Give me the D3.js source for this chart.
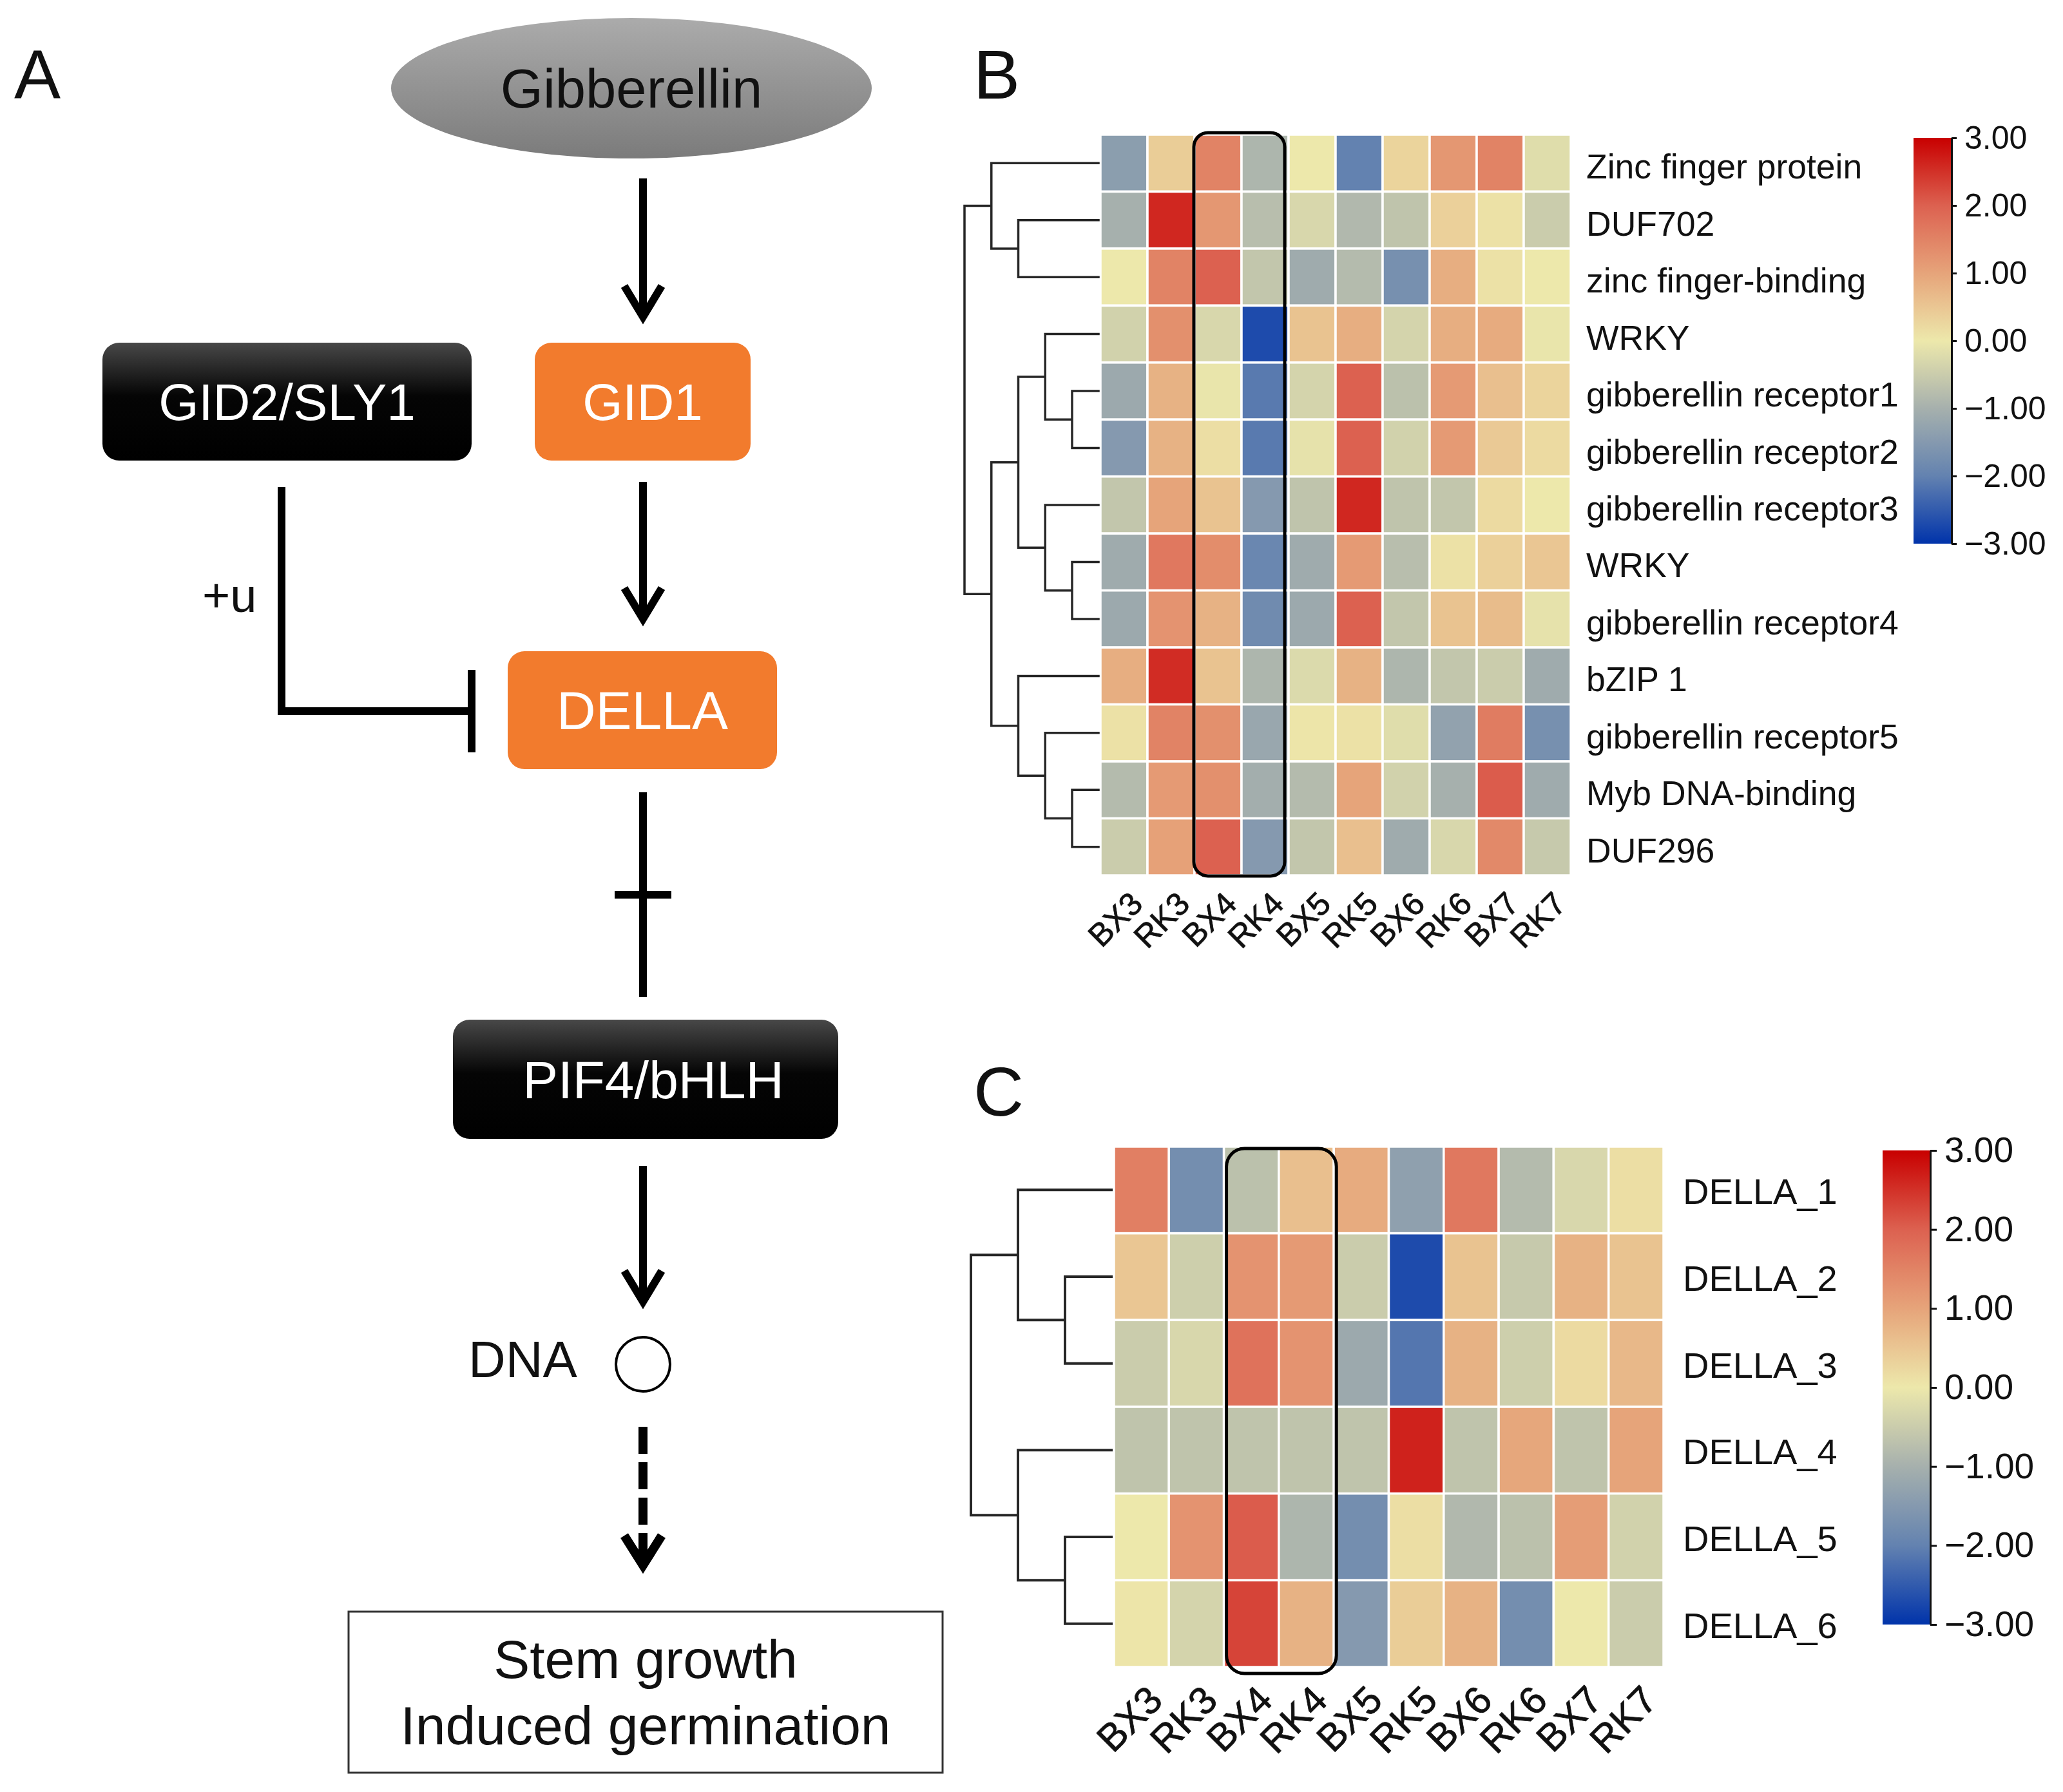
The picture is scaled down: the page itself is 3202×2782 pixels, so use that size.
<!DOCTYPE html>
<html><head><meta charset="utf-8">
<script src="https://cdn.jsdelivr.net/npm/d3@7"></script>
<style>
html,body{margin:0;padding:0;background:#fff;}
svg{display:block;}
text{font-family:"Liberation Sans", Arial, Helvetica, sans-serif;}
</style>
</head><body>
<svg id="fig" width="3202" height="2782"></svg>
<script>
// ---------------- DATA ----------------
const samples = ["BX3","RK3","BX4","RK4","BX5","RK5","BX6","RK6","BX7","RK7"];
const highlighted = ["BX4","RK4"];

const genesB = ["Zinc finger protein","DUF702","zinc finger-binding","WRKY",
  "gibberellin receptor1","gibberellin receptor2","gibberellin receptor3","WRKY",
  "gibberellin receptor4","bZIP 1","gibberellin receptor5","Myb DNA-binding","DUF296"];
const valuesB = [
  [-1.4, 0.4, 1.5,-0.9, 0.0,-2.0, 0.3, 1.2, 1.5,-0.2],
  [-1.0, 2.6, 1.2,-0.75,-0.3,-0.85,-0.65,0.35,0.1,-0.5],
  [ 0.0, 1.5, 2.0,-0.6,-1.1,-0.8,-1.7, 0.85,0.1, 0.0],
  [-0.4, 1.3,-0.3,-2.7, 0.55,0.85,-0.35,0.85,0.9,-0.05],
  [-1.15,0.8,-0.05,-2.1,-0.35,2.0,-0.7,1.15,0.6, 0.3],
  [-1.5, 0.8, 0.15,-2.1,-0.1, 2.0,-0.4, 1.15,0.45,0.2],
  [-0.6, 1.0, 0.55,-1.5,-0.65,2.6,-0.65,-0.6,0.2, 0.0],
  [-1.1, 1.65,1.35,-1.9,-1.1, 1.15,-0.75,0.1,0.35,0.5],
  [-1.15,1.25,0.8,-1.8,-1.15,2.0,-0.6, 0.55,0.65,-0.1],
  [ 0.85,2.55,0.55,-0.9,-0.25,0.8,-0.9,-0.6,-0.5,-1.1],
  [ 0.1, 1.5, 1.3,-1.2, 0.05,0.1,-0.2,-1.3, 1.6,-1.7],
  [-0.8, 1.15,1.3,-1.05,-0.8,1.0,-0.4,-1.0, 2.05,-1.1],
  [-0.5, 1.05,2.0,-1.5,-0.6, 0.6,-1.1,-0.3, 1.4,-0.55]
];
const treeB = [[0,[1,2]],[[[3,[4,5]],[6,[7,8]]],[9,[10,[11,12]]]]];

const genesC = ["DELLA_1","DELLA_2","DELLA_3","DELLA_4","DELLA_5","DELLA_6"];
const valuesC = [
  [ 1.55,-1.75,-0.7, 0.6, 0.9,-1.35, 1.65,-0.8,-0.3, 0.15],
  [ 0.5,-0.45, 1.25, 1.15,-0.5,-2.7, 0.55,-0.55,0.8, 0.55],
  [-0.5,-0.3, 1.75, 1.25,-1.15,-2.15,0.8,-0.45, 0.2, 0.7],
  [-0.65,-0.65,-0.65,-0.65,-0.65,2.65,-0.65,0.95,-0.65,1.0],
  [ 0.0, 1.25, 2.05,-0.9,-1.75, 0.15,-0.85,-0.7, 1.1,-0.4],
  [ 0.05,-0.35,2.3, 0.8,-1.5, 0.4, 0.8,-1.75, 0.0,-0.5]
];
const treeC = [[0,[1,2]],[3,[4,5]]];

const legendTicks = [3,2,1,0,-1,-2,-3];
const pathway = {ligand:"Gibberellin", receptor:"GID1", fbox:"GID2/SLY1", repressor:"DELLA",
  tf:"PIF4/bHLH", dna:"DNA", ubiq:"+u", outcome:["Stem growth","Induced germination"]};

// ---------------- STYLE ----------------
const svg = d3.select("#fig");
svg.append("rect").attr("width",3202).attr("height",2782).attr("fill","#fff");
const FONT = '"Liberation Sans", Arial, sans-serif';
const color = d3.scaleLinear()
  .domain([-3,-2,-1,0,1,2,3])
  .range(["#0033aa","#6382b0","#a6b0ad","#ede8ab","#e6a47a","#dc6150","#c80000"])
  .interpolate(d3.interpolateRgb).clamp(true);

const defs = svg.append("defs");
const lg = defs.append("linearGradient").attr("id","legGrad")
  .attr("x1",0).attr("y1",1).attr("x2",0).attr("y2",0);
d3.range(-3,3.001,0.25).forEach(v=>{
  lg.append("stop").attr("offset",(v+3)/6).attr("stop-color",color(v));
});
const eg = defs.append("linearGradient").attr("id","ellGrad").attr("x1",0).attr("y1",0).attr("x2",0).attr("y2",1);
eg.append("stop").attr("offset",0).attr("stop-color","#ababab");
eg.append("stop").attr("offset",1).attr("stop-color","#7b7b7b");
const bg = defs.append("linearGradient").attr("id","blkGrad").attr("x1",0).attr("y1",0).attr("x2",0).attr("y2",1);
bg.append("stop").attr("offset",0).attr("stop-color","#484848");
bg.append("stop").attr("offset",0.45).attr("stop-color","#050505");
bg.append("stop").attr("offset",1).attr("stop-color","#000");

// ---------------- HEATMAP ----------------
function heatmap(cfg){
  const g = svg.append("g");
  const x = d3.scaleBand().domain(samples).range([cfg.x0,cfg.x1]).padding(0);
  const y = d3.scaleBand().domain(d3.range(cfg.rows.length)).range([cfg.y0,cfg.y1]).padding(0);
  cfg.values.forEach((row,i)=>{
    g.selectAll(null).data(row).enter().append("rect")
      .attr("x",(d,j)=>x(samples[j])).attr("y",y(i))
      .attr("width",x.bandwidth()).attr("height",y.bandwidth())
      .attr("fill",d=>color(d)).attr("stroke","#fff").attr("stroke-width",cfg.gap);
  });
  g.selectAll(null).data(cfg.rows).enter().append("text")
    .attr("x",cfg.labelX).attr("y",(d,i)=>y(i)+y.bandwidth()/2+cfg.labelDy)
    .attr("font-size",cfg.labelFs).attr("fill","#111").text(d=>d);
  g.selectAll(null).data(samples).enter().append("text")
    .attr("transform",d=>`translate(${x(d)+x.bandwidth()/2+cfg.colDx},${cfg.y1+cfg.colDy}) rotate(-45)`)
    .attr("text-anchor","end").attr("font-size",cfg.colFs).attr("fill","#111")
    .attr("stroke","#111").attr("stroke-width",0.8).text(d=>d);
  const hx0 = x(highlighted[0]) + cfg.boxPad[0];
  const hx1 = x(highlighted[1]) + x.bandwidth() + cfg.boxPad[1];
  g.append("rect").attr("x",hx0).attr("y",cfg.y0+cfg.boxPad[2])
    .attr("width",hx1-hx0).attr("height",cfg.y1-cfg.y0+cfg.boxPad[3]-cfg.boxPad[2])
    .attr("rx",cfg.boxR).attr("ry",cfg.boxR)
    .attr("fill","none").attr("stroke","#000").attr("stroke-width",cfg.boxW);
  const root = d3.hierarchy(cfg.tree, d=>Array.isArray(d)?d:null);
  const depthX = d3.scaleLinear().domain([0,cfg.maxDepth]).range([cfg.dx0,cfg.dx1]);
  root.eachAfter(n=>{
    if(n.children){ n.py = d3.mean(n.children,c=>c.py); n.px = depthX(n.depth); }
    else { n.py = y(n.data)+y.bandwidth()/2; n.px = cfg.leafX; }
  });
  const paths=[];
  root.each(n=>{
    if(n.children){
      const ys = n.children.map(c=>c.py);
      paths.push(`M${n.px},${d3.min(ys)}V${d3.max(ys)}`);
      n.children.forEach(c=>paths.push(`M${n.px},${c.py}H${c.px}`));
    }
  });
  g.append("path").attr("d",paths.join("")).attr("fill","none")
    .attr("stroke","#262626").attr("stroke-width",cfg.treeW).attr("stroke-linecap","square");
  const ly = d3.scaleLinear().domain([-3,3]).range([cfg.leg.y1,cfg.leg.y0]);
  g.append("rect").attr("x",cfg.leg.x0).attr("y",cfg.leg.y0)
    .attr("width",cfg.leg.x1-cfg.leg.x0).attr("height",cfg.leg.y1-cfg.leg.y0).attr("fill","url(#legGrad)");
  const ax = g.append("g").attr("transform",`translate(${cfg.leg.x1},0)`)
    .call(d3.axisRight(ly).tickValues(legendTicks).tickFormat(d3.format(".2f"))
      .tickSize(cfg.leg.tick).tickSizeOuter(0).tickPadding(cfg.leg.pad));
  ax.select(".domain").attr("stroke","#111").attr("stroke-width",3);
  ax.selectAll(".tick line").attr("stroke","#111").attr("stroke-width",3);
  ax.selectAll(".tick text").attr("font-size",cfg.leg.fs).attr("font-family",FONT).attr("fill","#111");
}

heatmap({rows:genesB, values:valuesB, tree:treeB, maxDepth:4,
  x0:1708, x1:2438, y0:209, y1:1359, gap:3.5,
  labelX:2462, labelDy:24, labelFs:53.5, colDx:32, colDy:47, colFs:50,
  boxPad:[-1,-6,-3,1], boxR:22, boxW:5,
  dx0:1497, dx1:1664, leafX:1705, treeW:3.5,
  leg:{x0:2970,x1:3029,y0:214,y1:844,tick:8,pad:12,fs:50}});

heatmap({rows:genesC, values:valuesC, tree:treeC, maxDepth:2,
  x0:1729, x1:2582, y0:1780, y1:2588, gap:3.5,
  labelX:2612, labelDy:22, labelFs:56, colDx:36, colDy:55, colFs:60,
  boxPad:[4,4,3,10], boxR:28, boxW:5,
  dx0:1507, dx1:1653, leafX:1725, treeW:4,
  leg:{x0:2922,x1:2996,y0:1786,y1:2522,tick:10,pad:12,fs:55}});

// ---------------- PANEL LETTERS ----------------
[["A",22,153],["B",1511,153],["C",1511,1732]].forEach(([t,x,y])=>{
  svg.append("text").attr("x",x).attr("y",y).attr("font-size",108).attr("fill","#111").text(t);
});

// ---------------- PANEL A (pathway) ----------------
const A = svg.append("g");
const LW = 12;
function head(x,tip){
  A.append("path").attr("d",`M${x-29},${tip-54}L${x},${tip-6}L${x+29},${tip-54}`)
    .attr("fill","none").attr("stroke","#000").attr("stroke-width",LW).attr("stroke-linejoin","miter");
}
function arrow(x,y1,y2){
  A.append("line").attr("x1",x).attr("x2",x).attr("y1",y1).attr("y2",y2-6)
    .attr("stroke","#000").attr("stroke-width",LW);
  head(x,y2);
}
function box(x0,y0,x1,y1,fill,label,fs,cx){
  A.append("rect").attr("x",x0).attr("y",y0).attr("width",x1-x0).attr("height",y1-y0)
    .attr("rx",26).attr("ry",26).attr("fill",fill);
  A.append("text").attr("x",cx!==undefined?cx:(x0+x1)/2).attr("y",(y0+y1)/2+0.355*fs)
    .attr("text-anchor","middle").attr("font-size",fs).attr("fill","#fff").text(label);
}
A.append("ellipse").attr("cx",980).attr("cy",137).attr("rx",373).attr("ry",109).attr("fill","url(#ellGrad)");
A.append("text").attr("x",980).attr("y",167).attr("text-anchor","middle").attr("font-size",85)
  .attr("fill","#111").text(pathway.ligand);
arrow(998,277,498);
box(159,532,732,715,"url(#blkGrad)",pathway.fbox,80);
box(830,532,1165,715,"#f27b2d",pathway.receptor,80);
arrow(998,748,967);
box(788,1011,1206,1194,"#f27b2d",pathway.repressor,84);
A.append("path").attr("d","M437,756V1104H732").attr("fill","none").attr("stroke","#000").attr("stroke-width",LW);
A.append("line").attr("x1",732).attr("x2",732).attr("y1",1040).attr("y2",1168).attr("stroke","#000").attr("stroke-width",LW);
A.append("text").attr("x",314).attr("y",950).attr("font-size",74).attr("fill","#111").text(pathway.ubiq);
A.append("line").attr("x1",998).attr("x2",998).attr("y1",1230).attr("y2",1548).attr("stroke","#000").attr("stroke-width",LW);
A.append("line").attr("x1",954).attr("x2",1042).attr("y1",1389).attr("y2",1389).attr("stroke","#000").attr("stroke-width",LW);
box(703,1583,1301,1768,"url(#blkGrad)",pathway.tf,82,1014);
arrow(998,1810,2027);
A.append("circle").attr("cx",998).attr("cy",2118).attr("r",42).attr("fill","#fff").attr("stroke","#000").attr("stroke-width",4);
A.append("text").attr("x",727).attr("y",2138).attr("font-size",80).attr("fill","#111").text(pathway.dna);
// dashed arrow
A.append("line").attr("x1",998).attr("x2",998).attr("y1",2215).attr("y2",2367)
  .attr("stroke","#000").attr("stroke-width",14).attr("stroke-dasharray","42,13");
A.append("line").attr("x1",998).attr("x2",998).attr("y1",2380).attr("y2",2428)
  .attr("stroke","#000").attr("stroke-width",14);
A.append("path").attr("d",`M969,2384L998,2430L1027,2384`).attr("fill","none")
  .attr("stroke","#000").attr("stroke-width",14).attr("stroke-linejoin","miter");
A.append("rect").attr("x",541).attr("y",2502).attr("width",922).attr("height",250)
  .attr("fill","#fff").attr("stroke","#333").attr("stroke-width",3);
pathway.outcome.forEach((t,i)=>{
  A.append("text").attr("x",1002).attr("y",2605+i*103).attr("text-anchor","middle")
    .attr("font-size",84).attr("fill","#111").text(t);
});
</script>
</body></html>
